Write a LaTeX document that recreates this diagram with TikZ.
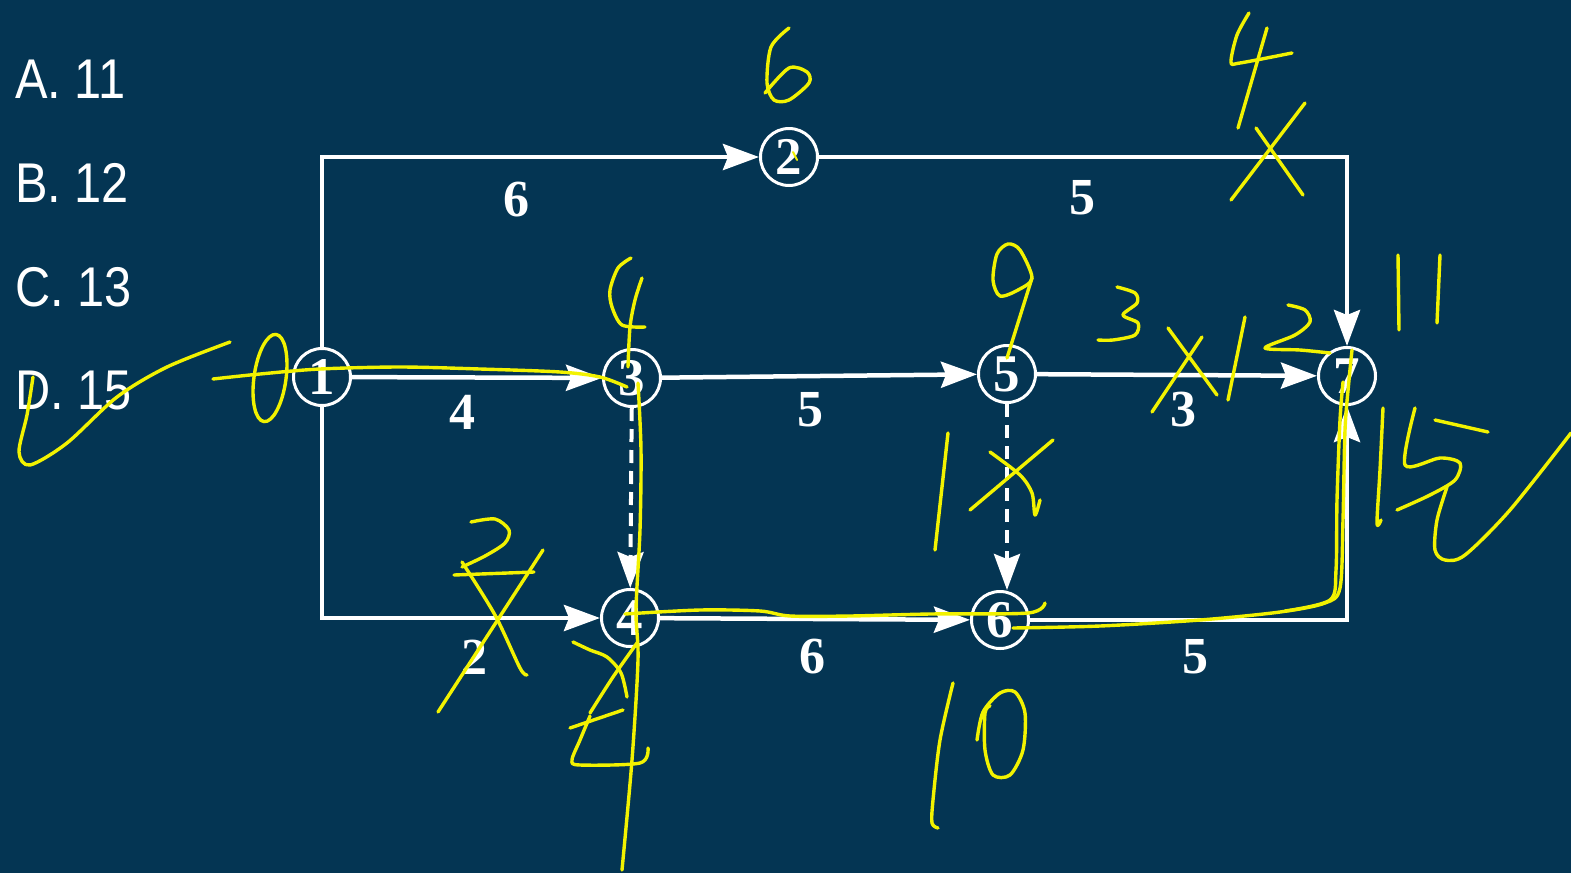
\documentclass[tikz,border=0pt]{standalone}
\usepackage{fontspec}
\setmainfont{Liberation Serif}
\newfontfamily\optfont[FakeStretch=0.87]{Liberation Sans}
\usetikzlibrary{arrows.meta}
\definecolor{bg}{RGB}{4,53,83}
\definecolor{hy}{RGB}{242,242,0}
\begin{document}
\begin{tikzpicture}[x=1pt,y=-1pt,
  ev/.style={circle, draw=white, line width=3pt, minimum size=57pt, inner sep=0pt, text=white, font=\fontsize{53}{53}\selectfont\bfseries},
  arr/.style={draw=white, line width=4.5pt, -{Stealth[length=36pt,width=26pt,inset=5pt]}},
  dsh/.style={arr, line width=4pt, dash pattern=on 13pt off 8pt},
  lab/.style={text=white, font=\fontsize{52}{52}\selectfont\bfseries},
  opt/.style={text=white, anchor=base west, inner sep=0pt, font=\optfont\fontsize{56}{56}\selectfont},
  hw/.style={draw=hy, line width=3.4pt, line cap=round, line join=round}]
\fill[bg] (0,0) rectangle (1571,873);
\useasboundingbox (0,0) rectangle (1571,873);

% options
\node[opt] (oa) at (15,98) {A. 11};
\node[opt] (ob) at (15,202) {B. 12};
\node[opt] (oc) at (15,306) {C. 13};
\node[opt] (od) at (15,409) {D. 15};

% events
\node[ev] (n1) at (322,377) {1};
\node[ev] (n2) at (789,157) {2};
\node[ev] (n3) at (632,378) {3};
\node[ev] (n4) at (630,618) {4};
\node[ev] (n5) at (1007,374) {5};
\node[ev] (n6) at (1000,620) {6};
\node[ev] (n7) at (1347,376) {7};

% activities
\draw[arr] (n1.north) |- (n2.west);
\draw[arr] (n2.east) -| (n7.north);
\draw[arr] (n1) -- (n3);
\draw[arr] (n3) -- (n5);
\draw[arr] (n5) -- (n7);
\draw[arr] (n1.south) |- (n4.west);
\draw[arr] (n4) -- (n6);
\draw[arr] (n6.east) -| (n7.south);
\draw[dsh] (n3) -- (n4);
\draw[dsh] (n5.south) -- (n5 |- n6.north);

% durations
\node[lab] (l12) at (516,200) {6};
\node[lab] (l27) at (1082,198) {5};
\node[lab] (l13) at (462,412) {4};
\node[lab] (l35) at (810,410) {5};
\node[lab] (l57) at (1183,410) {3};
\node[lab] (l14) at (474,657) {2};
\node[lab] (l46) at (812,657) {6};
\node[lab] (l67) at (1195,657) {5};

% ---- handwriting ----
% check mark at D
\draw[hw] plot[smooth] coordinates {(33,377) (27,415) (19,452) (30,465) (67,443) (117,397) (167,367) (230,342)};
% 0 at node 1
\draw[hw, rotate around={-8:(270,378)}] (270,378) ellipse [x radius=16, y radius=44];
% critical path 1 -> 3
\draw[hw] plot[smooth] coordinates {(213,379) (260,374) (320,369) (400,367) (480,369) (560,372) (600,377) (627,387)};
% 4 above node 3
\draw[hw] plot[smooth] coordinates {(631,258) (618,268) (610,290) (612,307) (622,325) (645,327)};
\draw[hw] plot[smooth] coordinates {(642,278) (635,300) (630,327) (628,367)};
% vertical line 3 -> 4 -> down
\draw[hw] plot[smooth] coordinates {(638,383) (641,450) (640,530) (636,610) (638,660) (632,760) (622,870)};
% crossed 2 and 4 below node 4
\draw[hw] plot[smooth] coordinates {(573,642) (590,650) (607,657) (621,673) (627,697)};
\draw[hw] plot[smooth] coordinates {(637,643) (613,677) (590,713)};
\draw[hw] (570,728) -- (623,710);
\draw[hw] plot[smooth] coordinates {(590,716) (580,740) (572,760) (580,765) (640,763) (648,748)};
% crossed 2 at 1->4
\draw[hw] plot[smooth] coordinates {(471,522) (495,519) (509,530) (505,543) (485,556) (462,567)};
\draw[hw] (454,575) -- (534,572);
\draw[hw] (543,550) -- (438,712);
\draw[hw] plot[smooth] coordinates {(462,562) (495,615) (520,668) (527,675)};
% 4 -> 6 path
\draw[hw] plot[smooth] coordinates {(625,614) (700,610) (760,611) (790,616) (850,616) (930,614) (1028,613) (1045,603)};
% 6 -> 7 path
\draw[hw] plot[smooth] coordinates {(1013,628) (1100,626) (1200,620) (1280,612) (1325,603) (1340,588) (1343,520) (1345,430) (1349,380) (1352,350)};
\draw[hw] plot[smooth] coordinates {(1285,611) (1330,600) (1336,570) (1337,500) (1340,420) (1343,382)};
% 6 above node 2
\draw[hw] plot[smooth] coordinates {(789,28) (771,47) (767,83) (774,100) (789,100) (809,83) (807,72) (789,68) (765,93)};
\draw[hw, line width=2pt] (793,152) -- (797,160);
% 4 and X top right
\draw[hw] plot[smooth] coordinates {(1249,13) (1237,35) (1231,62) (1240,63) (1292,53)};
\draw[hw] (1267,28) -- (1238,128);
\draw[hw] (1305,103) -- (1231,200);
\draw[hw] (1256,128) -- (1303,195);
% 9 above node 5
\draw[hw] plot[smooth cycle] coordinates {(1032,278) (1020,250) (1008,244) (997,254) (993,280) (1000,296) (1018,290)};
\draw[hw] (1032,278) -- (1007,358);
% 3, X, 12 on 5 -> 7
\draw[hw] plot[smooth] coordinates {(1117,287) (1135,293) (1137,303) (1123,315) (1138,323) (1135,335) (1113,340) (1098,340)};
\draw[hw] (1168,328) -- (1217,395);
\draw[hw] (1202,337) -- (1152,412);
\draw[hw] (1245,317) -- (1228,400);
\draw[hw] plot[smooth] coordinates {(1288,305) (1305,310) (1310,322) (1295,335) (1265,348) (1300,350) (1330,353)};
% 11
\draw[hw] (1398,255) -- (1399,330);
\draw[hw] (1440,255) -- (1437,323);
% 15 and check
\draw[hw] plot[smooth] coordinates {(1383,408) (1380,470) (1377,523) (1381,520)};
\draw[hw] (1435,420) -- (1488,432);
\draw[hw] plot[smooth] coordinates {(1415,408) (1405,465) (1440,458) (1460,463) (1455,480) (1430,495) (1397,510)};
\draw[hw] plot[smooth] coordinates {(1447,487) (1437,520) (1435,550) (1445,560) (1465,555) (1510,510) (1571,433)};
% 1X below node 5
\draw[hw] (948,433) -- (935,550);
\draw[hw] (1053,440) -- (970,510);
\draw[hw] plot[smooth] coordinates {(990,452) (1020,475) (1032,493) (1035,515) (1040,500)};
% 10 below node 6
\draw[hw] plot[smooth] coordinates {(953,683) (940,740) (933,800) (932,823) (938,828)};
\draw[hw] plot[smooth] coordinates {(977,740) (983,712) (1000,693) (1015,692) (1025,713) (1023,750) (1010,775) (993,775) (985,750) (985,713) (990,706)};
\end{tikzpicture}
\end{document}
